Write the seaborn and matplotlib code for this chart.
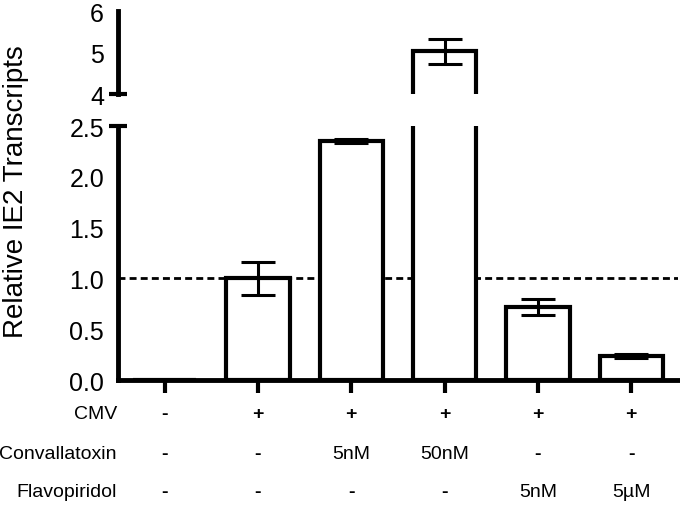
import pandas as pd
import seaborn as sns
from matplotlib import pyplot
import matplotlib.transforms as mtransforms

## values
groups = ['g1', 'g2', 'g3', 'g4', 'g5', 'g6']
means = [0.0, 1.0, 2.35, 5.03, 0.72, 0.24]
errors = [0.0, 0.16, 0.02, 0.30, 0.08, 0.02]

row_names = ['CMV', 'Convallatoxin', 'Flavopiridol']
cmv = ['-', '+', '+', '+', '+', '+']
convallatoxin = ['-', '-', '5nM', '50nM', '-', '-']
flavopiridol = ['-', '-', '-', '-', '5nM', '5\u00b5M']

df = pd.DataFrame({'group': groups, 'mean': means, 'err': errors})

sns.set_style("white", {'axes.edgecolor': 'black', 'xtick.color': 'black',
                        'ytick.color': 'black', 'text.color': 'black',
                        'axes.labelcolor': 'black'})
pyplot.rcParams['font.family'] = ['Liberation Sans', 'DejaVu Sans']

fig = pyplot.figure(figsize=(6.8, 5.06), dpi=100)
ax_lo = fig.add_axes([0.1735, 0.247, 0.8235, 0.502])
ax_hi = fig.add_axes([0.1735, 0.812, 0.8235, 0.164])

for ax in (ax_lo, ax_hi):
    ax.axhline(1.0, color='black', lw=2, linestyle=(0, (2.5, 1.5)), zorder=0)
    sns.barplot(data=df, x='group', y='mean', ax=ax, color='white',
                edgecolor='black', linewidth=3, width=0.68, errorbar=None,
                zorder=2)
    ax.errorbar(range(len(groups)), means, yerr=errors, fmt='none',
                ecolor='black', elinewidth=2.2, capsize=12, capthick=2.2,
                zorder=3)
    ax.set_xlim(-0.5, 5.5)
    ax.set_xlabel('')
    ax.set_ylabel('')
    for s in ['top', 'right']:
        ax.spines[s].set_visible(False)
    ax.spines['left'].set_linewidth(3.5)
    ax.tick_params(axis='y', length=9, width=3, labelsize=18, pad=1,
                   colors='black')

ax_lo.set_ylim(0, 2.5)
ax_lo.set_yticks([0, 0.5, 1.0, 1.5, 2.0, 2.5])
ax_lo.set_yticklabels(['0.0', '0.5', '1.0', '1.5', '2.0', '2.5'])
ax_lo.spines['bottom'].set_linewidth(3.5)
ax_lo.set_xticks(range(len(groups)))
ax_lo.set_xticklabels([''] * len(groups))
ax_lo.tick_params(axis='x', length=9, width=3, bottom=True, colors='black')

ax_hi.set_ylim(4, 6)
ax_hi.set_yticks([4, 5, 6])
ax_hi.spines['bottom'].set_visible(False)
ax_hi.set_xticks([])

# break marks
ax_lo.plot([-0.016, 0.016], [1, 1], color='black', lw=3,
           transform=ax_lo.transAxes, clip_on=False, solid_capstyle='butt')
ax_hi.plot([-0.016, 0.016], [0, 0], color='black', lw=3,
           transform=ax_hi.transAxes, clip_on=False, solid_capstyle='butt')

# condition table under the axis
trans = mtransforms.blended_transform_factory(ax_lo.transData, fig.transFigure)
row_y = [0.180, 0.101, 0.026]
for name, cells, yy in zip(row_names, [cmv, convallatoxin, flavopiridol], row_y):
    fig.text(0.172, yy, name, ha='right', va='center', fontsize=14)
    for i, c in enumerate(cells):
        bold = c in ('+', '-')
        ax_lo.text(i, yy, c, transform=trans, ha='center', va='center',
                   fontsize=14, fontweight='bold' if bold else 'normal')

fig.text(0.024, 0.622, 'Relative IE2 Transcripts', rotation=90,
         ha='center', va='center', fontsize=20)

fig.savefig('out.png', dpi=100)
